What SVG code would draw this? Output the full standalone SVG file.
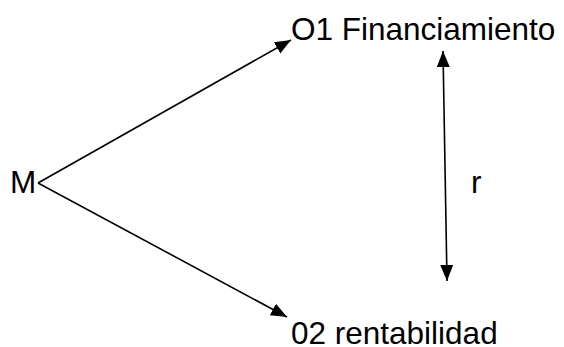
<svg xmlns="http://www.w3.org/2000/svg" width="564" height="347" viewBox="0 0 564 347">
<style>
text{font-family:"Liberation Sans",Arial,sans-serif;font-size:31.5px;fill:#000}
.c{stroke:#000;stroke-width:1.6;fill:none}
</style>
<defs>
<marker id="ah" markerUnits="userSpaceOnUse" markerWidth="17" markerHeight="14" refX="16" refY="7" orient="auto-start-reverse">
<path d="M0,0.5 L16,7 L0,13.5 Z" fill="#000"/>
</marker>
</defs>
<rect width="564" height="347" fill="#fff"/>
<g id="connectors">
<line class="c" x1="38" y1="183" x2="291" y2="40" marker-end="url(#ah)"/>
<line class="c" x1="38" y1="183" x2="287" y2="317" marker-end="url(#ah)"/>
<line class="c" x1="443" y1="51" x2="447" y2="281" marker-start="url(#ah)" marker-end="url(#ah)"/>
</g>
<g id="M"><text x="10" y="193">M</text></g>
<g id="O1"><text x="291" y="40">O1 Financiamiento</text></g>
<g id="O2"><text x="291" y="344">02 rentabilidad</text></g>
<g id="r"><text x="471" y="193">r</text></g>
</svg>
